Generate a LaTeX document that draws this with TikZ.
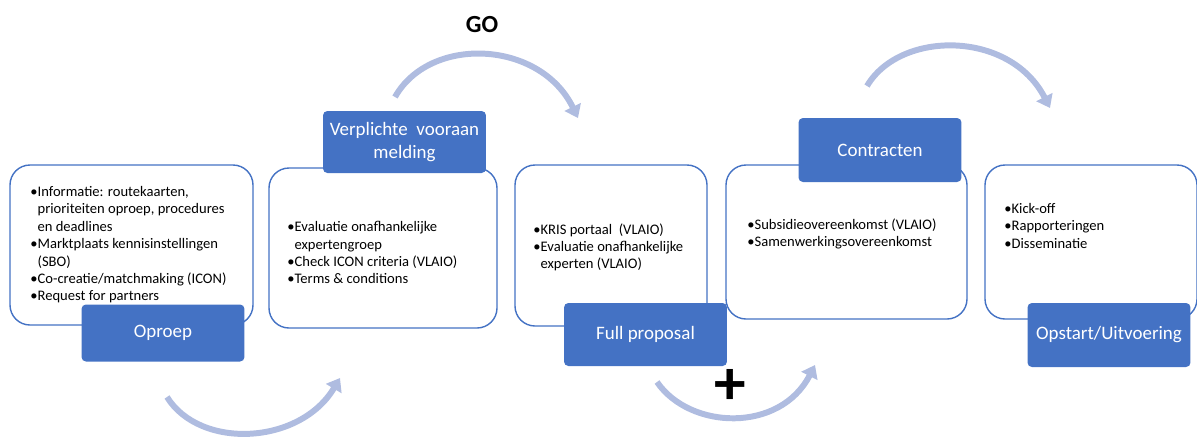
\documentclass[tikz,border=0pt]{standalone}
\usepackage{fontspec}
\setmainfont{Carlito}
\usetikzlibrary{arrows.meta,fit}
\definecolor{accent}{HTML}{4472C4}
\definecolor{swoosh}{HTML}{AFBCE0}
\newcommand{\bul}{\textbullet}
\newcommand{\ind}{\hphantom{\textbullet}}

\begin{document}
\begin{tikzpicture}[x=0.02cm,y=-0.02cm,
  card/.style={draw=accent, line width=0.8pt, fill=white, rounded corners=0.4cm, inner sep=0pt},
  tag/.style={fill=accent, rounded corners=2.5pt, inner sep=0pt, text=white, align=center,
    minimum width=3.26cm, font=\fontsize{10.8}{13}\selectfont},
  items/.style={anchor=north west, inner sep=0pt, align=left, font=\fontsize{8.3}{9.9}\selectfont},
  flow/.style={draw=swoosh, line width=3.4pt, -{Triangle[length=7pt,width=10pt]}}]

\useasboundingbox (0,0) rectangle (1197,437);

% white cards
\node[card, fit={(10,165) (253,325)}] (info) {};
\node[card, fit={(269,168) (497,328)}] (eval) {};
\node[card, fit={(515,165) (707,326)}] (kris) {};
\node[card, fit={(726,165) (967,319)}] (contr) {};
\node[card, fit={(985,165) (1197,319)}] (start) {};

% card texts
\node[items] (infotext) at (30,186) {\bul Informatie: routekaarten,\\
  \ind prioriteiten oproep, procedures\\ \ind en deadlines\\
  \bul Marktplaats kennisinstellingen\\ \ind (SBO)\\
  \bul Co-creatie/matchmaking (ICON)\\ \bul Request for partners};
\node[items] (evaltext) at (287,221) {\bul Evaluatie onafhankelijke\\ \ind expertengroep\\
  \bul Check ICON criteria (VLAIO)\\ \bul Terms \& conditions};
\node[items] (kristext) at (533,223) {\bul KRIS portaal\ \ (VLAIO)\\
  \bul Evaluatie onafhankelijke\\ \ind experten (VLAIO)};
\node[items] (contrtext) at (747,218) {\bul Subsidieovereenkomst (VLAIO)\\
  \bul Samenwerkingsovereenkomst};
\node[items] (starttext) at (1004,203) {\bul Kick-off\\ \bul Rapporteringen\\ \bul Disseminatie};

% blue tags
\node[tag, minimum height=1.14cm] (oproep) at (163,333) {Oproep};
\node[tag, minimum height=1.24cm] (melding) at (404.5,142) {Verplichte\ \ vooraan\\ melding};
\node[tag, minimum height=1.26cm] (full) at (645.5,334.5) {Full proposal};
\node[tag, minimum height=1.28cm] (contracten) at (880,150) {Contracten};
\node[tag, minimum height=1.28cm] (opstart) at (1109,335) {Opstart/Uitvoering};

% swooshes
\coordinate (s1) at (167,397);
\coordinate (e1) at (340,378);
\coordinate (s2) at (395,97);
\coordinate (e2) at (578,118);
\coordinate (s3) at (657,382);
\coordinate (e3) at (815,365);
\coordinate (s4) at (867,86);
\coordinate (e4) at (1050,108);
\draw[flow] (s1) .. controls (200,450) and (300,445) .. (e1);
\draw[flow] (s2) .. controls (430,35) and (540,40) .. (e2);
\draw[flow] (s3) .. controls (690,430) and (780,433) .. (e3);
\draw[flow] (s4) .. controls (900,30) and (1010,30) .. (e4);

\node[font=\fontsize{14}{14}\selectfont\bfseries] (go) at (482,25) {GO};
\node[font=\fontsize{36}{36}\selectfont\bfseries] (plus) at (730,387) {+};

\end{tikzpicture}
\end{document}
